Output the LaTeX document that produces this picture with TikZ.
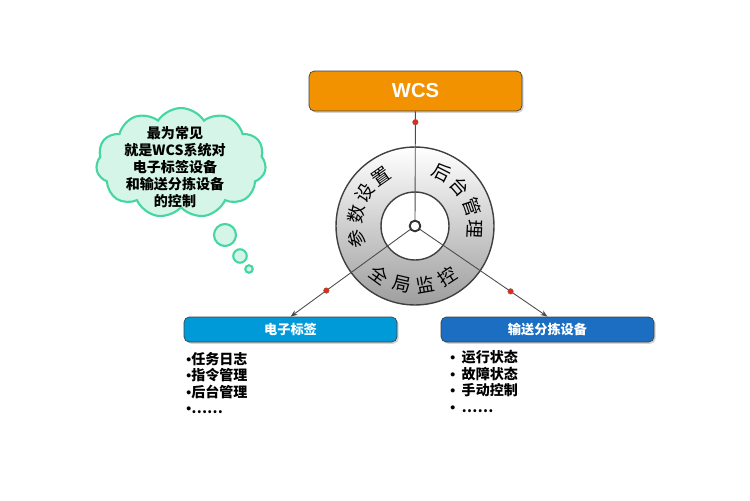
\documentclass[tikz,border=0pt]{standalone}
\usepackage{fontspec}
\setmainfont{Noto Sans CJK SC}
\newfontfamily\wcsfont{Liberation Sans}
\usetikzlibrary{shapes.symbols,shadows,arrows.meta}

\definecolor{wcsorange}{HTML}{F39200}
\definecolor{tagblue}{HTML}{009AD8}
\definecolor{convblue}{HTML}{1B6EC2}
\definecolor{mintfill}{HTML}{D4F5E8}
\definecolor{mintline}{HTML}{45D6A2}
\definecolor{dotred}{HTML}{E8280F}

\newcommand{\bul}{{\wcsfont\textbullet}}

\begin{document}
\begin{tikzpicture}[x=0.02cm, y=-0.02cm,
    box/.style={draw=black!75, rounded corners=3pt, minimum width=4.26cm, minimum height=0.5cm,
        text=white, font=\fontsize{7.5}{9}\selectfont\bfseries,
        drop shadow={shadow xshift=1pt, shadow yshift=-1pt, opacity=0.35}},
    link/.style={draw=black!70, line width=0.5pt},
    reddot/.style={circle, fill=dotred, draw=black!60, line width=0.2pt, inner sep=0pt, minimum size=3.2pt},
    ringchar/.style={font=\fontsize{10.5}{10.5}\selectfont, inner sep=0pt},
    listtxt/.style={align=left, inner sep=0pt, font=\fontsize{8}{9.4}\selectfont\bfseries},
    bubble/.style={circle, draw=mintline, line width=1.2pt, fill=mintfill, inner sep=0pt}]
    \useasboundingbox (0,0) rectangle (750,500);
    % thought cloud
    \node[cloud, cloud puffs=11, cloud puff arc=115, aspect=1.5, draw=mintline, line width=1.2pt,
        fill=mintfill, minimum width=3.4cm, minimum height=2.2cm] (cloud) at (181,163) {};
    \node[align=center, inner sep=0pt, font=\fontsize{8}{9.7}\selectfont\bfseries] (cloudtxt) at (175,167)
        {最为常见\\就是WCS系统对\\电子标签设备\\和输送分拣设备\\的控制};
    \node[bubble, minimum size=0.44cm] (bub1) at (225,235) {};
    \node[bubble, minimum size=0.27cm] (bub2) at (240,256) {};
    \node[bubble, minimum size=0.15cm] (bub3) at (249,269) {};
    % top and bottom boxes
    \node[box, fill=wcsorange, minimum height=0.8cm, font=\wcsfont\fontsize{11.5}{12}\selectfont\bfseries] (wcs) at (415.5,91) {WCS};
    \node[box, fill=tagblue] (tag) at (290.5,329.5) {电子标签};
    \node[box, fill=convblue] (conv) at (547.5,329.5) {输送分拣设备};
    % ring
    \coordinate (hubc) at (415,226);
    \shade[top color=white, bottom color=black!38, draw=black!75, line width=0.8pt] (hubc) circle (1.58cm);
    \draw[fill=white, draw=black!75, line width=0.8pt] (hubc) circle (0.68cm);
    \node[circle, draw=black!80, fill=white, line width=1pt, inner sep=0pt, minimum size=6pt] (hub) at (hubc) {};
    \draw[link] (wcs) -- (hub) node[reddot, pos=0.1] {};
    \draw[link, -{Stealth[length=4pt, width=3pt]}] (hub) -- (tag.north) node[reddot, pos=0.7] {};
    \draw[link, -{Stealth[length=4pt, width=3pt]}] (hub) -- (conv.north) node[reddot, pos=0.71] {};
    \node[circle, draw=black!80, fill=white, line width=1pt, inner sep=0pt, minimum size=6pt] at (hub) {};
    \foreach \ch/\a in {参/192, 数/169, 设/147, 置/125, 后/63, 台/41, 管/19, 理/-3}
        \node[ringchar, rotate=\a-90] at ([shift={(\a:1.2cm)}]hubc) {\ch};
    \foreach \ch/\a in {全/234, 局/257, 监/280, 控/303}
        \node[ringchar, rotate=\a+90] at ([shift={(\a:1.2cm)}]hubc) {\ch};
    % lists
    \node[listtxt, anchor=north west] (taglist) at (186,352) {\bul 任务日志\\\bul 指令管理\\\bul 后台管理\\\bul ……};
    \node[listtxt, anchor=north west] (convlist) at (450,350) {\bul\ \ 运行状态\\\bul\ \ 故障状态\\\bul\ \ 手动控制\\\bul\ \ ……};
\end{tikzpicture}
\end{document}
